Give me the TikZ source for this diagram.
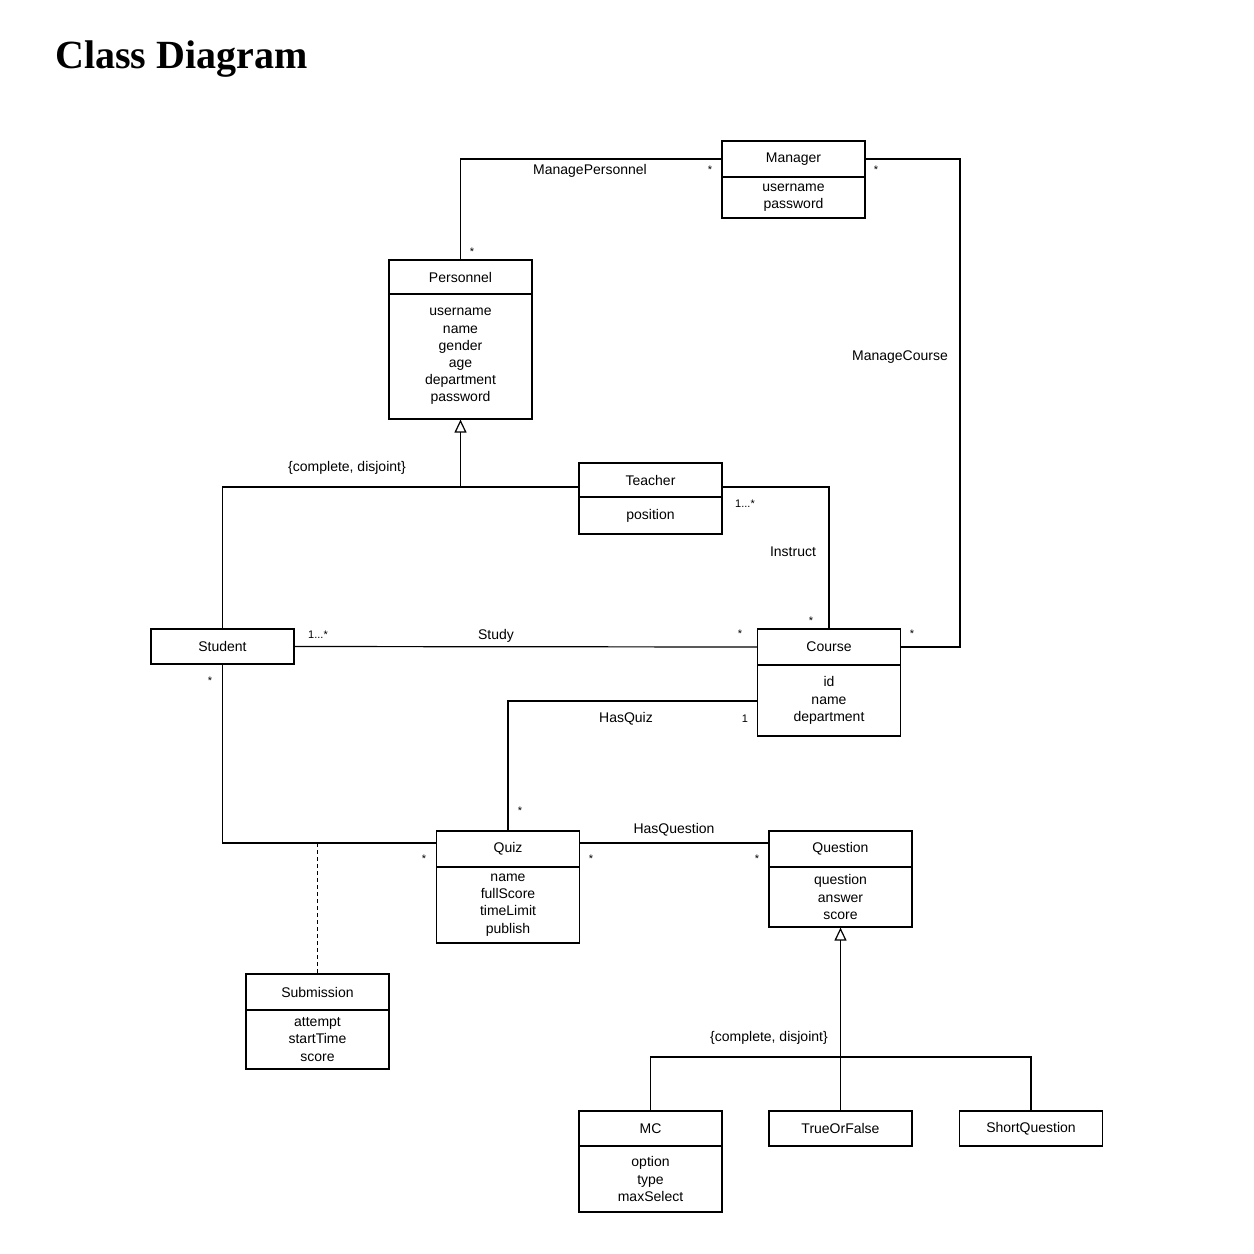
\documentclass[tikz,border=0pt]{standalone}
\usepackage{fontspec}
\setmainfont{Liberation Serif}
\newfontfamily\umlsans{Liberation Sans}
\usetikzlibrary{arrows.meta}
\tikzset{
  cls/.style={draw, line width=1.2pt, minimum width=143pt, inner sep=0pt, align=center,
    font=\umlsans\fontsize{14}{17.2}\selectfont},
  lbl/.style={inner sep=0pt, font=\umlsans\fontsize{14}{17}\selectfont},
  mult/.style={inner sep=0pt, font=\umlsans\fontsize{11}{12}\selectfont},
  conn/.style={line width=1.2pt},
  gen/.style={line width=1.2pt, -{Triangle[open,length=13pt,width=12pt,line width=1.2pt]}},
}
\begin{document}
\begin{tikzpicture}[x=1pt,y=-1pt]
\useasboundingbox (0,0) rectangle (1254,1254);
\node[anchor=base west, inner sep=0pt, font=\bfseries\fontsize{40}{44}\selectfont] (title) at (55,68) {Class Diagram};

% classes
\node[cls, minimum height=36pt] (manager) at (793.5,159) {Manager};
\node[cls, minimum height=41pt] (managerA) at (793.5,197.5) {username\\password};

\node[cls, minimum height=34pt] (personnel) at (460.5,277) {Personnel};
\node[cls, minimum height=125pt] (personnelA) at (460.5,356.5) {username\\name\\gender\\age\\department\\password};

\node[cls, minimum height=34pt] (teacher) at (650.5,480) {Teacher};
\node[cls, minimum height=37pt] (teacherA) at (650.5,515.5) {position};

\node[cls, minimum height=35pt] (student) at (222.5,646.5) {Student};

\node[cls, minimum height=36pt] (course) at (829,647) {Course};
\node[cls, minimum height=71pt] (courseA) at (829,700.5) {id\\name\\department};

\node[cls, minimum height=36pt] (quiz) at (508,849) {Quiz};
\node[cls, minimum height=76pt] (quizA) at (508,905) {name\\fullScore\\timeLimit\\publish};

\node[cls, minimum height=36pt] (question) at (840.5,849) {Question};
\node[cls, minimum height=60pt] (questionA) at (840.5,897) {question\\answer\\score};

\node[cls, minimum height=36pt] (submission) at (317.5,992) {Submission};
\node[cls, minimum height=59pt] (submissionA) at (317.5,1039.5) {attempt\\startTime\\score};

\node[cls, minimum height=35pt] (mc) at (650.5,1128.5) {MC};
\node[cls, minimum height=66pt] (mcA) at (650.5,1179) {option\\type\\maxSelect};

\node[cls, minimum height=35pt] (tof) at (840.5,1128.5) {TrueOrFalse};
\node[cls, minimum height=35pt] (shortq) at (1031,1128.5) {ShortQuestion};

% junction coordinates
\coordinate (gp) at (460.5,487);
\coordinate (gq) at (840.5,1057);
\coordinate (subj) at (317.5,843);

% ManagePersonnel
\draw[conn] (manager.west) -| (personnel.north);
\node[lbl] (lMP) at (590,171) {ManagePersonnel};
\node[mult] (mMP1) at (710,170) {*};
\node[mult] (mMP2) at (472,252) {*};

% ManageCourse
\draw[conn] (manager.east) -- (960,159) |- (course.east);
\node[lbl] (lMC) at (900,357) {ManageCourse};
\node[mult] (mMC1) at (876,170) {*};
\node[mult] (mMC2) at (912,634) {*};

% Generalization Personnel
\draw[gen] (gp) -- (personnelA.south);
\draw[conn] (teacher.west |- gp) -- (student.north |- gp) -- (student.north);
\node[lbl] (lG1) at (347,468) {\{complete, disjoint\}};

% Instruct
\draw[conn] (teacher.east |- gp) -| (course.north);
\node[mult] (mI1) at (745,504) {1...*};
\node[lbl] (lI) at (793,552) {Instruct};
\node[mult] (mI2) at (811,621) {*};

% Study
\draw[conn] (student.east) -- (course.west);
\node[mult] (mS1) at (318,635) {1...*};
\node[lbl] (lS) at (496,636) {Study};
\node[mult] (mS2) at (740,634) {*};

% HasQuiz
\draw[conn] (courseA.west |- 0,701) -| (quiz.north);
\node[lbl] (lHQ) at (626,719) {HasQuiz};
\node[mult] (mHQ1) at (745,719) {1};
\node[mult] (mHQ2) at (520,811) {*};

% Student - Quiz (association class Submission)
\draw[conn] (student.south) |- (quiz.west |- subj);
\node[mult] (mSQ1) at (210,681) {*};
\node[mult] (mSQ2) at (424,859) {*};
\draw[line width=1pt, dashed, dash pattern=on 4pt off 3pt] (subj) -- (submission.north);

% HasQuestion
\draw[conn] (quiz.east |- subj) -- (question.west |- subj);
\node[lbl] (lHQu) at (674,830) {HasQuestion};
\node[mult] (mHQu1) at (591,859) {*};
\node[mult] (mHQu2) at (757,859) {*};

% Generalization Question
\draw[gen] (gq) -- (questionA.south);
\draw[conn] (gq) -- (tof.north);
\draw[conn] (mc.north) |- (gq) -| (shortq.north);
\node[lbl] (lG2) at (769,1038) {\{complete, disjoint\}};
\end{tikzpicture}
\end{document}
